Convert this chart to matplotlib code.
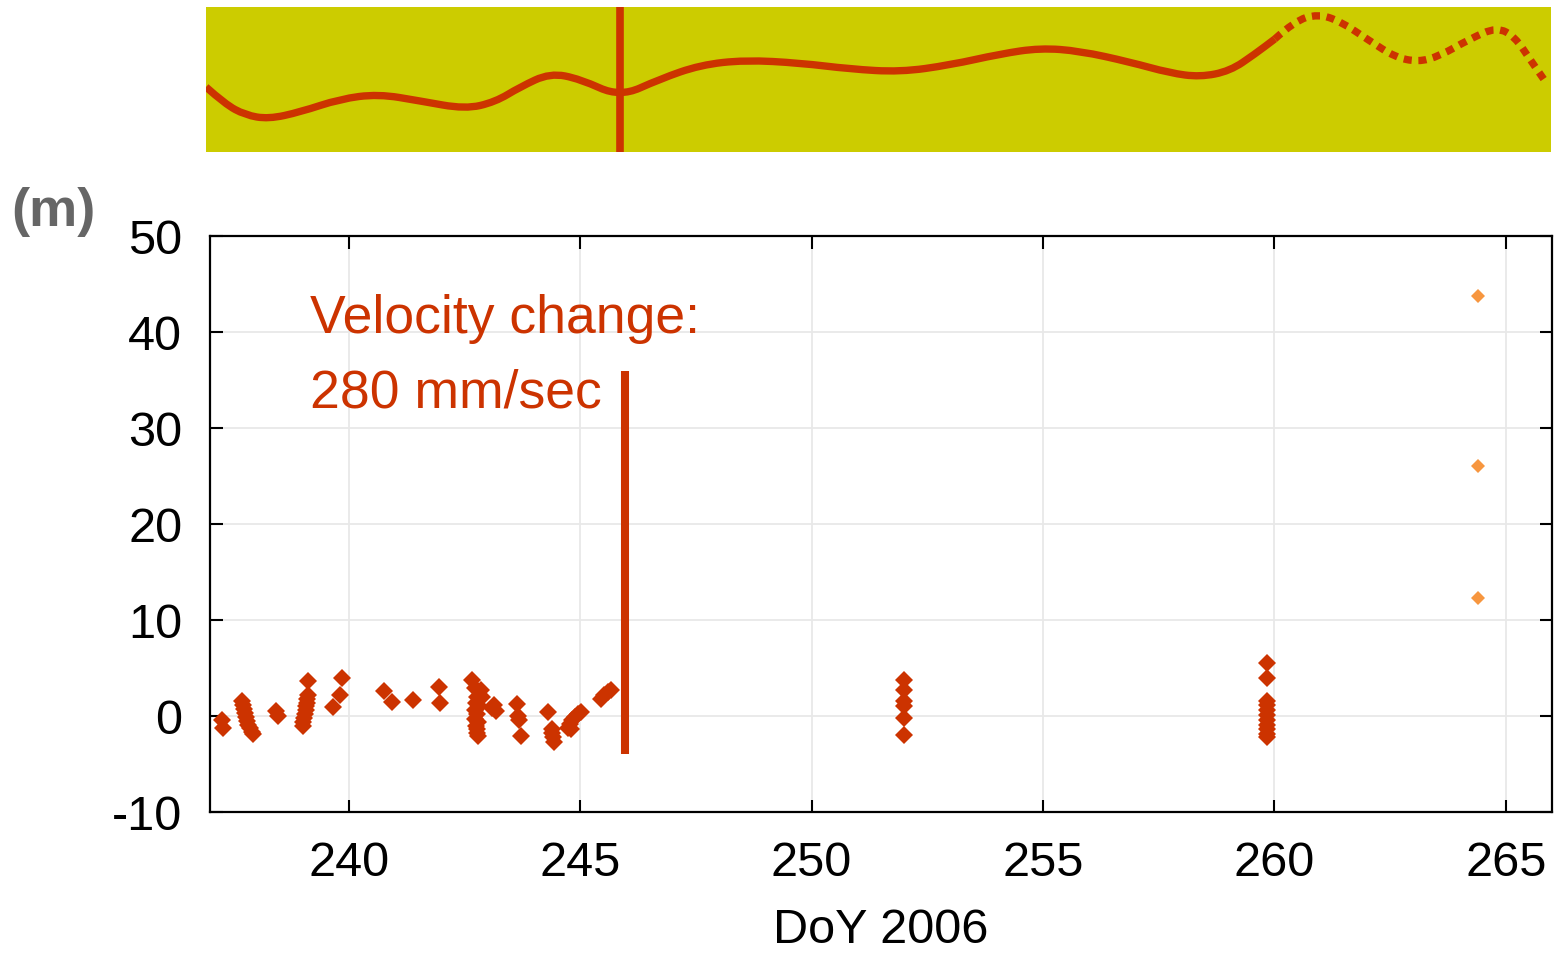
import matplotlib
matplotlib.use("Agg")
import matplotlib.pyplot as plt
from matplotlib.path import Path
from matplotlib.patches import PathPatch

plt.rcParams['font.family'] = ['Liberation Sans', 'DejaVu Sans']
plt.rcParams['axes.unicode_minus'] = False

RED = "#cc3300"
ORANGE = "#f7963f"
YELLOW = "#cccc00"

# position offsets (m) per day of year
doy_red = [237.26, 237.28,
           237.70, 237.72, 237.74, 237.76, 237.78, 237.80, 237.83, 237.86, 237.90, 237.93,
           238.42, 238.46,
           239.00, 239.02, 239.04, 239.06, 239.07, 239.08, 239.09, 239.10, 239.11, 239.12,
           239.66, 239.80, 239.86,
           240.77, 240.94, 241.39,
           241.94, 241.98,
           242.67, 242.72, 242.85, 242.88, 242.78, 242.75, 242.82, 242.72, 242.78, 242.72,
           242.80, 242.74, 242.78, 242.76, 242.80,
           243.13, 243.17, 243.10,
           243.64, 243.66, 243.68, 243.71,
           244.30, 244.38, 244.42, 244.44, 244.40,
           244.73, 244.78, 244.83, 244.88, 244.95, 245.02, 244.80,
           245.44, 245.52, 245.60, 245.66,
           252.0, 252.0, 252.0, 252.0, 252.0, 252.0,
           259.84, 259.84, 259.84, 259.84, 259.84, 259.84, 259.84, 259.84, 259.84, 259.84, 259.84]
off_red = [-0.4, -1.2,
           1.6, 1.1, 0.7, 0.3, -0.1, -0.5, -0.9, -1.3, -1.7, -1.9,
           0.5, 0.0,
           -1.0, -0.6, -0.2, 0.2, 0.6, 1.0, 1.4, 1.8, 2.2, 3.6,
           0.9, 2.2, 4.0,
           2.6, 1.5, 1.7,
           3.0, 1.4,
           3.7, 2.9, 2.7, 2.0, 2.0, 1.4, 1.0, 0.6, 0.2, -0.3,
           -0.6, -1.0, -1.4, -1.8, -2.1,
           1.1, 0.5, 0.8,
           1.3, 0.0, -0.4, -2.1,
           0.4, -1.4, -2.2, -2.7, -1.8,
           -1.2, -0.8, -0.4, -0.1, 0.2, 0.4, -1.4,
           1.8, 2.2, 2.5, 2.7,
           3.75, 2.7, 1.6, 1.0, -0.2, -2.0,
           5.5, 4.0, 1.6, 1.1, 0.6, 0.1, -0.4, -0.9, -1.4, -1.9, -2.2]
doy_orange = [264.4, 264.4, 264.4]
off_orange = [43.75, 26.0, 12.3]

change_doy = 245.96
change_range = [-4.0, 35.9]

# orbit sketch in the top panel (day of year, relative height)
orbit_doy = [236.91, 237.32, 237.76, 238.26, 238.95, 239.81, 240.64, 241.55, 242.52,
             243.17, 243.71, 244.36, 245.01, 245.87, 246.74, 247.61, 248.58, 249.77,
             250.85, 251.94, 253.02, 254.10, 254.97, 255.83, 256.91, 257.78, 258.43,
             259.08, 259.62, 260.05]
orbit_h = [65, 48, 37, 33, 40, 53, 58, 51, 43, 50, 65, 79, 73, 55, 73, 87, 92, 89,
           83, 80, 87, 98, 104, 101, 90, 79, 75, 81, 98, 113]
pred_doy = [260.05, 260.48, 260.98, 261.46, 262.11, 262.65, 263.15, 263.62, 264.27,
            264.86, 265.25, 265.57, 265.90]
pred_h = [113, 131, 138, 131, 111, 95, 90, 96, 113, 125, 115, 93, 71]

xticks = [240, 245, 250, 255, 260, 265]
yticks = [-10, 0, 10, 20, 30, 40, 50]


def smooth(xs, ys):
    # quadratic bezier through midpoints, read points as control points
    verts = [(xs[0], ys[0])]
    codes = [Path.MOVETO]
    for i in range(1, len(xs) - 1):
        verts += [(xs[i], ys[i]), ((xs[i] + xs[i + 1]) / 2, (ys[i] + ys[i + 1]) / 2)]
        codes += [Path.CURVE3, Path.CURVE3]
    verts.append((xs[-1], ys[-1]))
    codes.append(Path.LINETO)
    return Path(verts, codes)


fig = plt.figure(figsize=(15.61, 9.54), dpi=100)

# top panel
top = fig.add_axes([206 / 1561, 1 - 153 / 954, 1345 / 1561, 145 / 954])
top.set_facecolor(YELLOW)
top.add_patch(PathPatch(smooth(orbit_doy, orbit_h), fill=False, edgecolor=RED, lw=5.3,
                        capstyle='butt'))
top.add_patch(PathPatch(smooth(pred_doy, pred_h), fill=False, edgecolor=RED, lw=5.3,
                        linestyle=(0, (1.1, 0.9)), capstyle='butt'))
top.axvline(245.87, color=RED, lw=5.5)
top.set_xlim(236.91, 266.03)
top.set_ylim(0, 145)
top.set_xticks([])
top.set_yticks([])
for s in top.spines.values():
    s.set_visible(False)

# main panel
ax = fig.add_axes([210 / 1561, 1 - 813 / 954, 1342 / 1561, 576 / 954])
ax.plot(doy_red, off_red, 'D', ms=9.5, color=RED, mew=0, zorder=3)
ax.plot(doy_orange, off_orange, 'D', ms=7.5, color=ORANGE, mew=0, zorder=3)
ax.plot([change_doy, change_doy], change_range, color=RED, lw=5.8, solid_capstyle='butt', zorder=4)

ax.text(239.16, 40.0, "Velocity change:", color=RED, fontsize=38.5, va='baseline')
ax.text(239.16, 32.2, "280 mm/sec", color=RED, fontsize=38.5, va='baseline')

ax.set_xlim(237, 266)
ax.set_ylim(-10, 50)
ax.set_xticks(xticks)
ax.set_yticks(yticks)
ax.grid(True, color='#e8e8e8', lw=1.3, zorder=0)
ax.set_axisbelow(True)
ax.tick_params(direction='in', length=9, width=1.5, top=True, right=True,
               labelsize=35, pad=20)
for s in ax.spines.values():
    s.set_linewidth(1.6)
ax.set_xlabel("DoY 2006", fontsize=35, labelpad=16)

fig.text(53 / 1561, 1 - 212 / 954, "(m)", fontsize=39, fontweight='bold', color='#666666',
         ha='center', va='center')

fig.savefig("out.png", dpi=100)
